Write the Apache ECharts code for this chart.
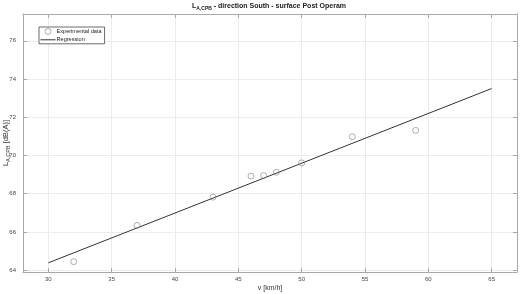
<!DOCTYPE html>
<html><head><meta charset="utf-8">
<script src="https://cdn.jsdelivr.net/npm/echarts@6/dist/echarts.min.js"></script>
<style>html,body{margin:0;padding:0;background:#fff}#c{width:520px;height:294px}</style>
</head><body><div id="c"></div>
<script>
const speed = [32, 37, 43, 46, 47, 48, 50, 54, 59];
const level = [64.44, 66.34, 67.82, 68.92, 68.95, 69.12, 69.61, 70.98, 71.31];
const regX = [30, 65];
const regY = [64.38, 73.50];
const xTicks = [30, 35, 40, 45, 50, 55, 60, 65];
const yTicks = [64, 66, 68, 70, 72, 74, 76];

const FONT = 'Liberation Sans, Arial, sans-serif';
const axisColor = '#a8a8a8';
const chart = echarts.init(document.getElementById('c'), null, {renderer: 'canvas'});

function baseAxis(extra) {
  return Object.assign({
    type: 'value',
    axisLine: {show: true, onZero: false, lineStyle: {color: axisColor, width: 1}},
    axisTick: {show: true, inside: true, length: 4, lineStyle: {color: axisColor}},
    splitLine: {show: false},
  }, extra);
}

chart.setOption({
  animation: false,
  backgroundColor: '#fff',
  textStyle: {fontFamily: FONT},
  title: {
    left: 192,
    top: 1,
    padding: 0,
    text: '{a|L}{s|A,CPB}{a| - direction South - surface Post Operam}',
    textStyle: {
      rich: {
        a: {fontFamily: FONT, fontSize: 7, fontWeight: 'bold', color: '#222', lineHeight: 11},
        s: {fontFamily: FONT, fontSize: 5, fontWeight: 'bold', color: '#222', lineHeight: 11, padding: [4, 0, 0, 0]}
      }
    }
  },
  grid: {left: 23, right: 3, top: 14, bottom: 22, containLabel: false, outerBoundsMode: 'none'},
  legend: {
    orient: 'vertical',
    left: 39,
    top: 27,
    padding: [1, 3, 1, 1],
    itemGap: 2,
    itemWidth: 15,
    itemHeight: 6,
    borderColor: '#444',
    borderWidth: 0.8,
    backgroundColor: '#fff',
    textStyle: {fontFamily: FONT, fontSize: 5.6, color: '#222', padding: [0, 0, 0, -4]},
    data: [
      {name: 'Experimental data', icon: 'circle', itemStyle: {color: '#fff', borderColor: '#808080', borderWidth: 0.8}},
      {name: 'Regression', itemStyle: {opacity: 0}, lineStyle: {width: 1, color: '#333'}}
    ]
  },
  xAxis: [
    baseAxis({
      min: 28, max: 67,
      position: 'bottom',
      name: 'v [km/h]',
      nameLocation: 'middle',
      nameGap: 13,
      nameMoveOverlap: false,
      nameTextStyle: {fontFamily: FONT, fontSize: 7, color: '#333'},
      axisTick: {show: true, inside: true, length: 4, lineStyle: {color: axisColor}, customValues: xTicks},
      axisLabel: {customValues: xTicks, fontFamily: FONT, fontSize: 6, color: '#444', margin: 4},
      splitLine: {show: true, lineStyle: {color: '#ececec', width: 1}}
    }),
    baseAxis({
      min: 28, max: 67,
      position: 'top',
      axisTick: {show: true, inside: true, length: 4, lineStyle: {color: axisColor}, customValues: xTicks},
      axisLabel: {show: false, customValues: xTicks}
    })
  ],
  yAxis: [
    baseAxis({
      min: 63.9, max: 77.4,
      position: 'left',
      name: '{a|L}{s|A,CPB}{a| [dB(A)]}',
      nameLocation: 'middle',
      nameGap: 12,
      nameRotate: 90,
      nameMoveOverlap: false,
      nameTextStyle: {
        rich: {
          a: {fontFamily: FONT, fontSize: 7.5, color: '#333', lineHeight: 10},
          s: {fontFamily: FONT, fontSize: 5.5, color: '#333', lineHeight: 10, padding: [4, 0, 0, 0]}
        }
      },
      axisTick: {show: true, inside: true, length: 4, lineStyle: {color: axisColor}, customValues: yTicks},
      axisLabel: {customValues: yTicks, fontFamily: FONT, fontSize: 6, color: '#444', margin: 7},
      splitLine: {show: true, lineStyle: {color: '#ececec', width: 1}}
    }),
    baseAxis({
      min: 63.9, max: 77.4,
      position: 'right',
      axisTick: {show: true, inside: true, length: 4, lineStyle: {color: axisColor}, customValues: yTicks},
      axisLabel: {show: false, customValues: yTicks}
    })
  ],
  series: [
    {
      name: 'Experimental data',
      type: 'scatter',
      symbol: 'circle',
      symbolSize: 6,
      itemStyle: {color: 'rgba(255,255,255,0)', borderColor: '#808080', borderWidth: 0.8},
      data: speed.map((v, i) => [v, level[i]]),
      z: 3
    },
    {
      name: 'Regression',
      type: 'line',
      symbol: 'none',
      lineStyle: {color: '#333', width: 1},
      itemStyle: {color: '#333'},
      data: regX.map((v, i) => [v, regY[i]]),
      z: 2
    }
  ]
});
</script></body></html>
